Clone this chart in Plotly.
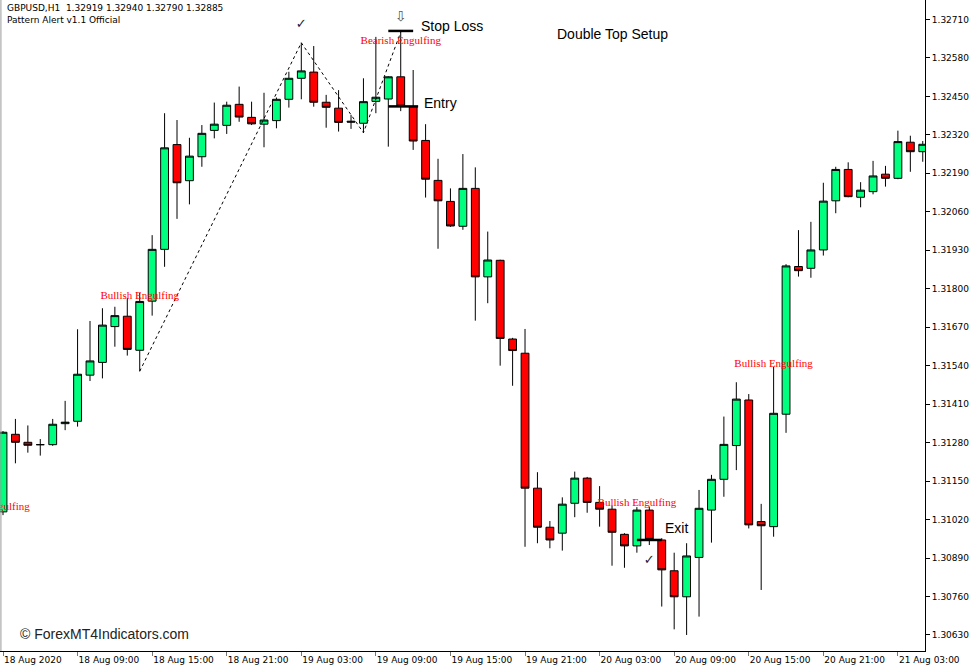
import plotly.graph_objects as go

# ---------------- data (GBPUSD H1, 18 Aug 03:00 -> 21 Aug 05:00) ----------------
opens = [1.31046, 1.31308, 1.31281, 1.31273, 1.31273, 1.31344, 1.31352, 1.31508, 1.31551, 1.31672,
         1.31707, 1.31592, 1.31758, 1.31933, 1.32287, 1.32165, 1.32246, 1.32335, 1.32352, 1.32423,
         1.32379, 1.32356, 1.32368, 1.32440, 1.32511, 1.32532, 1.32430, 1.32410, 1.32366, 1.32359,
         1.32433, 1.32441, 1.32516, 1.32415, 1.32301, 1.32166, 1.32095, 1.32011, 1.32139, 1.31840,
         1.31896, 1.31630, 1.31582, 1.31126, 1.30994, 1.30974, 1.31075, 1.31160, 1.31078, 1.31055,
         1.30970, 1.30931, 1.31052, 1.30951, 1.30847, 1.30759, 1.30892, 1.31052, 1.31156, 1.31270,
         1.31424, 1.31013, 1.30996, 1.31376, 1.31875, 1.31869, 1.31931, 1.32097, 1.32203, 1.32109,
         1.32128, 1.32187, 1.32173, 1.32295, 1.32263]
highs = [1.31319, 1.31360, 1.31338, 1.31292, 1.31360, 1.31421, 1.31663, 1.31691, 1.31734, 1.31739,
         1.31768, 1.31786, 1.31981, 1.32393, 1.32370, 1.32310, 1.32353, 1.32429, 1.32432, 1.32483,
         1.32432, 1.32462, 1.32446, 1.32533, 1.32631, 1.32620, 1.32455, 1.32471, 1.32387, 1.32511,
         1.32651, 1.32518, 1.32667, 1.32539, 1.32356, 1.32239, 1.32139, 1.32255, 1.32210, 1.31993,
         1.31898, 1.31634, 1.31664, 1.31180, 1.31015, 1.31095, 1.31182, 1.31164, 1.31133, 1.31066,
         1.30974, 1.31062, 1.31063, 1.30957, 1.30908, 1.30940, 1.31120, 1.31171, 1.31368, 1.31484,
         1.31444, 1.31073, 1.31536, 1.31883, 1.31998, 1.32026, 1.32158, 1.32212, 1.32227, 1.32160,
         1.32232, 1.32215, 1.32334, 1.32317, 1.32299]
lows = [1.31035, 1.31210, 1.31246, 1.31236, 1.31269, 1.31322, 1.31334, 1.31488, 1.31497, 1.31604,
        1.31574, 1.31521, 1.31709, 1.31874, 1.32036, 1.32085, 1.32212, 1.32308, 1.32323, 1.32364,
        1.32353, 1.32278, 1.32342, 1.32412, 1.32440, 1.32415, 1.32344, 1.32331, 1.32340, 1.32327,
        1.32393, 1.32280, 1.32400, 1.32269, 1.32108, 1.31935, 1.32009, 1.31999, 1.31692, 1.31751,
        1.31540, 1.31472, 1.30928, 1.30940, 1.30923, 1.30915, 1.31028, 1.31043, 1.30996, 1.30864,
        1.30857, 1.30908, 1.30934, 1.30726, 1.30649, 1.30630, 1.30692, 1.30942, 1.31097, 1.31187,
        1.30990, 1.30782, 1.30962, 1.31313, 1.31841, 1.31837, 1.31912, 1.32055, 1.32109, 1.32075,
        1.32119, 1.32145, 1.32170, 1.32195, 1.32229]
closes = [1.31315, 1.31281, 1.31271, 1.31273, 1.31342, 1.31349, 1.31511, 1.31556, 1.31677, 1.31709,
          1.31595, 1.31757, 1.31933, 1.32276, 1.32158, 1.32248, 1.32325, 1.32356, 1.32420, 1.32380,
          1.32357, 1.32370, 1.32440, 1.32511, 1.32536, 1.32430, 1.32413, 1.32362, 1.32363, 1.32432,
          1.32447, 1.32516, 1.32417, 1.32299, 1.32170, 1.32097, 1.32012, 1.32139, 1.31840, 1.31897,
          1.31632, 1.31591, 1.31126, 1.30994, 1.30951, 1.31072, 1.31160, 1.31078, 1.31055, 1.30977,
          1.30931, 1.31052, 1.30953, 1.30850, 1.30759, 1.30897, 1.31058, 1.31156, 1.31274, 1.31427,
          1.31002, 1.30999, 1.31379, 1.31877, 1.31861, 1.31931, 1.32096, 1.32203, 1.32111, 1.32133,
          1.32181, 1.32173, 1.32297, 1.32263, 1.32288]

tick_idx = [0, 6, 12, 18, 24, 30, 36, 42, 48, 54, 60, 66, 72]
tick_text = ["18 Aug 2020", "18 Aug 09:00", "18 Aug 15:00", "18 Aug 21:00", "19 Aug 03:00",
             "19 Aug 09:00", "19 Aug 15:00", "19 Aug 21:00", "20 Aug 03:00", "20 Aug 09:00",
             "20 Aug 15:00", "20 Aug 21:00", "21 Aug 03:00"]
price_ticks = [1.30630, 1.30760, 1.30890, 1.31020, 1.31150, 1.31280, 1.31410, 1.31540, 1.31670,
               1.31800, 1.31930, 1.32060, 1.32190, 1.32320, 1.32450, 1.32580, 1.32710]

# pattern labels (candle index, price, text)
pattern_idx = [-1, 11, 32, 51, 62]
pattern_price = [1.31062, 1.31775, 1.32637, 1.31076, 1.31546]
pattern_text = ["Bullish Engulfing", "Bullish Engulfing", "Bearish Engulfing",
                "Bullish Engulfing", "Bullish Engulfing"]

# double-top swing points (candle index)
swing_idx = [11, 24, 29, 32]

# trade levels
stop_price = 1.32671
entry_price = 1.32416
exit_price = 1.30951

x = list(range(len(opens)))

fig = go.Figure()
fig.add_trace(go.Candlestick(
    x=x, open=opens, high=highs, low=lows, close=closes,
    increasing=dict(line=dict(color="#000000", width=1), fillcolor="#00FF7F"),
    decreasing=dict(line=dict(color="#000000", width=1), fillcolor="#FF0000"),
    whiskerwidth=0, hoverinfo="skip"))

# double top dotted zigzag
swing_y = [lows[swing_idx[0]], highs[swing_idx[1]], lows[swing_idx[2]], highs[swing_idx[3]]]
fig.add_trace(go.Scatter(x=swing_idx, y=swing_y, mode="lines",
                         line=dict(color="#000000", width=1, dash="dot"), hoverinfo="skip"))

# trade level lines
lvl_font = dict(family="Liberation Sans, Arial", size=14, color="#000000")
fig.add_trace(go.Scatter(x=[31, 33], y=[stop_price, stop_price], mode="lines",
                         line=dict(color="#000000", width=2.5), hoverinfo="skip"))
fig.add_trace(go.Scatter(x=[31, 33.4], y=[entry_price, entry_price], mode="lines",
                         line=dict(color="#000000", width=2.5), hoverinfo="skip"))
fig.add_trace(go.Scatter(x=[51, 53], y=[exit_price, exit_price], mode="lines",
                         line=dict(color="#000000", width=2.5), hoverinfo="skip"))

# pattern texts (clipped to the plot area)
fig.add_trace(go.Scatter(x=pattern_idx, y=pattern_price, mode="text", text=pattern_text,
                         textposition="middle center", cliponaxis=True,
                         textfont=dict(family="Liberation Serif, Times New Roman", size=11, color="#FF0000"),
                         hoverinfo="skip"))

# check marks and arrow
fig.add_trace(go.Scatter(x=[24, 52], y=[1.32691, 1.30880], mode="text", text=["✓", "✓"],
                         textposition="middle center",
                         textfont=dict(family="DejaVu Sans", size=13, color="#1a1a40"), hoverinfo="skip"))
fig.add_trace(go.Scatter(x=[32], y=[1.32715], mode="text", text=["⇩"],
                         textposition="middle center",
                         textfont=dict(family="DejaVu Sans", size=14, color="#555555"), hoverinfo="skip"))

ann = []
ann.append(dict(x=33.47, y=1.32688, xref="x", yref="y", text="Stop Loss", showarrow=False,
                xanchor="left", yanchor="middle", font=lvl_font))
ann.append(dict(x=33.7, y=1.32428, xref="x", yref="y", text="Entry", showarrow=False,
                xanchor="left", yanchor="middle", font=lvl_font))
ann.append(dict(x=53.1, y=1.30991, xref="x", yref="y", text="Exit", showarrow=False,
                xanchor="left", yanchor="middle", font=lvl_font))
ann.append(dict(x=49.0, y=1.32660, xref="x", yref="y", text="Double Top Setup", showarrow=False,
                xanchor="center", yanchor="middle", font=lvl_font))
hdr_font = dict(family="DejaVu Sans", size=9, color="#000000")
ann.append(dict(x=5 / 925, y=1 - 8 / 651, xref="paper", yref="paper",
                text="GBPUSD,H1  1.32919 1.32940 1.32790 1.32885", showarrow=False,
                xanchor="left", yanchor="middle", font=hdr_font))
ann.append(dict(x=5 / 925, y=1 - 20 / 651, xref="paper", yref="paper",
                text="Pattern Alert v1.1 Official", showarrow=False,
                xanchor="left", yanchor="middle", font=hdr_font))
ann.append(dict(x=18 / 925, y=(651 - 634) / 651, xref="paper", yref="paper",
                text="© ForexMT4Indicators.com", showarrow=False,
                xanchor="left", yanchor="middle",
                font=dict(family="Liberation Sans, Arial", size=14, color="#222222")))

axis_font = dict(family="DejaVu Sans", size=9, color="#000000")
fig.update_layout(
    width=977, height=670,
    margin=dict(l=0, r=52, t=0, b=19),
    plot_bgcolor="#FFFFFF", paper_bgcolor="#FFFFFF",
    showlegend=False,
    annotations=ann,
    boxgap=0.1,
    shapes=[dict(type="line", xref="paper", yref="paper", x0=0.001, x1=0.001, y0=0, y1=1,
                 line=dict(color="#999999", width=1))],
    xaxis=dict(range=[-0.241, 74.18], tickmode="array", tickvals=tick_idx, ticktext=tick_text,
               ticks="outside", ticklen=4, tickcolor="#777777", showline=True, linecolor="#000000",
               linewidth=1, showgrid=False, zeroline=False, ticklabelposition="outside right",
               tickfont=axis_font, rangeslider=dict(visible=False), fixedrange=True,
               automargin=False),
    yaxis=dict(range=[1.3057582, 1.3277555], side="right", tickmode="array", tickvals=price_ticks,
               tickformat=".5f", ticks="outside", ticklen=4, tickcolor="#000000", showline=True,
               linecolor="#000000", linewidth=1, showgrid=False, zeroline=False,
               tickfont=axis_font, fixedrange=True, automargin=False),
)

fig.write_html("out.html", config={"displayModeBar": False},
               post_script="document.body.style.margin='0';document.body.style.overflow='hidden';")
